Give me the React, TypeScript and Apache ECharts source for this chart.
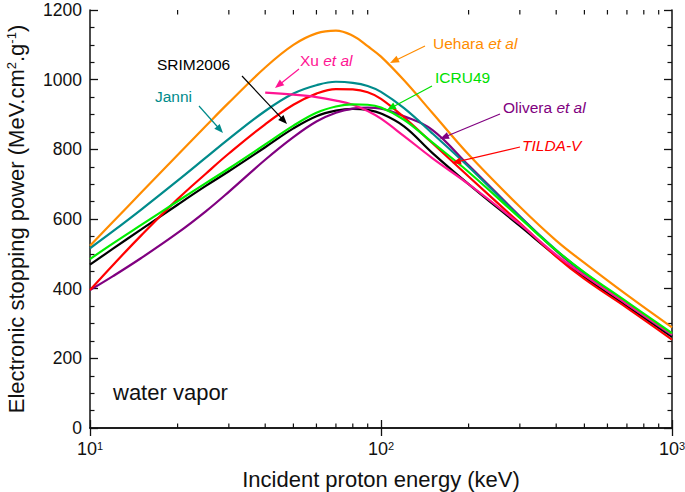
import React, { useEffect, useRef } from "react";
import * as echarts from "echarts";

const FONT = '"Liberation Sans", Arial, Helvetica, sans-serif';

const energies = [10, 12, 15, 20, 25, 30, 40, 50, 60, 70, 80, 90, 100, 120, 150, 200, 300, 400, 500, 700, 1000];
const uehara = [523, 592, 676, 784, 867, 934, 1035, 1100, 1133, 1141, 1126, 1096, 1066, 998, 905, 785, 635, 538, 474, 382, 289];
const janni = [516, 565, 627, 710, 776, 830, 910, 960, 984, 994, 991, 982, 965, 918, 846, 750, 606, 511, 445, 358, 268];
const tilda = [396, 468, 553, 657, 730, 788, 872, 928, 960, 973, 972, 964, 945, 892, 818, 722, 588, 492, 428, 345, 254];
const icru49 = [485, 530, 583, 651, 703, 745, 814, 868, 905, 923, 929, 928, 920, 885, 820, 735, 603, 510, 447, 362, 272];
const srim2006 = [469, 515, 570, 641, 695, 737, 806, 860, 895, 911, 916, 913, 903, 866, 790, 700, 580, 494, 433, 350, 262];
const olivera = [396, 436, 488, 560, 622, 678, 770, 835, 880, 905, 917, 920, 917, 895, 856, 754, 608, 508, 443, 356, 267];
const xu = [null, null, null, null, null, null, 963, 957, 950, 940, 928, 910, 888, 838, 775, 700, 585, 497, 438, 356, 268];

const minorTicksX = [20, 30, 40, 50, 60, 70, 80, 90, 200, 300, 400, 500, 600, 700, 800, 900];

const C = {
  uehara: "#FF8C00",
  janni: "#008B8B",
  tilda: "#FF0000",
  icru: "#00EE00",
  srim: "#000000",
  olivera: "#800080",
  xu: "#FF1493",
};

function pairs(vals: (number | null)[]) {
  const out: [number, number][] = [];
  vals.forEach((v, i) => {
    if (v !== null) out.push([energies[i], v]);
  });
  return out;
}

function lineSeries(name: string, vals: (number | null)[], color: string, z: number) {
  return {
    name,
    type: "line",
    data: pairs(vals),
    showSymbol: false,
    smooth: 0.4,
    z,
    lineStyle: { color, width: 2.2 },
    itemStyle: { color },
    silent: true,
  };
}

function arrow(x1: number, y1: number, x2: number, y2: number, color: string) {
  const dx = x2 - x1;
  const dy = y2 - y1;
  const L = Math.hypot(dx, dy);
  const ux = dx / L;
  const uy = dy / L;
  const hl = 9;
  const hw = 3.6;
  const bx = x2 - ux * hl;
  const by = y2 - uy * hl;
  return [
    { type: "line", z: 100, shape: { x1, y1, x2: bx + ux * 2, y2: by + uy * 2 }, style: { stroke: color, lineWidth: 1.2 } },
    {
      type: "polygon",
      z: 100,
      shape: { points: [[x2, y2], [bx - uy * hw, by + ux * hw], [bx + uy * hw, by - ux * hw]] },
      style: { fill: color },
    },
  ];
}

function label(x: number, y: number, text: string, color: string, italicPart?: string, allItalic?: boolean) {
  const base = { fontSize: 15.5, fontFamily: FONT, fill: color, color };
  const t = italicPart ? `{n|${text}}{i|${italicPart}}` : allItalic ? `{i|${text}}` : `{n|${text}}`;
  return {
    type: "text",
    z: 100,
    x,
    y,
    style: {
      text: t,
      fill: color,
      fontSize: 15.5,
      fontFamily: FONT,
      verticalAlign: "middle",
      textVerticalAlign: "middle",
      rich: {
        n: { ...base },
        i: { ...base, fontStyle: "italic" },
      },
    },
  };
}

export default function App() {
  const ref = useRef<HTMLDivElement>(null);
  useEffect(() => {
    if (!ref.current) return;
    const chart = echarts.init(ref.current, null, { renderer: "svg" });
    const axisCol = "#111";
    const supRich = {
      b: { fontSize: 18, fontFamily: FONT, color: "#111" },
      s: { fontSize: 11, fontFamily: FONT, color: "#111", verticalAlign: "top" },
    };
    const option: any = {
      animation: false,
      backgroundColor: "#fff",
      grid: { left: 90, right: 13, top: 10, bottom: 64, outerBoundsMode: "none", containLabel: false },
      xAxis: [
        {
          type: "log",
          logBase: 10,
          min: 10,
          max: 1000,
          position: "bottom",
          axisLine: { show: true, lineStyle: { color: axisCol, width: 1.5 } },
          axisTick: { show: true, inside: true, length: 8, lineStyle: { color: axisCol, width: 1.3 } },
          minorTick: { show: false },
          splitLine: { show: false },
          axisLabel: {
            margin: 12,
            formatter: (v: number) => `{b|10}{s|${Math.round(Math.log10(v))}}`,
            rich: supRich,
          },
          name: "Incident proton energy (keV)",
          nameLocation: "middle",
          nameGap: 40,
          nameTextStyle: { fontSize: 22, fontFamily: FONT, color: "#111" },
        },
        {
          type: "log",
          logBase: 10,
          min: 10,
          max: 1000,
          position: "top",
          axisLine: { show: true, lineStyle: { color: axisCol, width: 1.5 } },
          axisTick: { show: true, inside: true, length: 8, lineStyle: { color: axisCol, width: 1.3 } },
          axisLabel: { show: false },
          splitLine: { show: false },
        },
      ],
      yAxis: [
        {
          type: "value",
          min: 0,
          max: 1200,
          interval: 200,
          position: "left",
          axisLine: { show: true, lineStyle: { color: axisCol, width: 1.5 } },
          axisTick: { show: true, inside: true, length: 8, lineStyle: { color: axisCol, width: 1.3 } },
          minorTick: { show: true, splitNumber: 4, length: 4.5, lineStyle: { color: axisCol, width: 1.2 } },
          splitLine: { show: false },
          axisLabel: {
            margin: 8,
            fontSize: 17.5,
            lineHeight: 14,
            fontFamily: FONT,
            color: "#111",
            formatter: (v: number) => String(v),
          },
          name: "{a|Electronic stopping power (MeV.cm}{s|2}{a|.g}{s|-1}{a|)}",
          nameLocation: "middle",
          nameGap: 63,
          nameTextStyle: {
            fontSize: 22,
            fontFamily: FONT,
            color: "#111",
            rich: {
              a: { fontSize: 22, fontFamily: FONT, color: "#111" },
              s: { fontSize: 13, fontFamily: FONT, color: "#111", verticalAlign: "top" },
            },
          },
        },
        {
          type: "value",
          min: 0,
          max: 1200,
          interval: 200,
          position: "right",
          axisLine: { show: true, lineStyle: { color: axisCol, width: 1.5 } },
          axisTick: { show: true, inside: true, length: 8, lineStyle: { color: axisCol, width: 1.3 } },
          minorTick: { show: true, splitNumber: 4, length: 4.5, lineStyle: { color: axisCol, width: 1.2 } },
          splitLine: { show: false },
          axisLabel: { show: false },
        },
      ],
      series: [
        lineSeries("SRIM2006", srim2006, C.srim, 2),
        lineSeries("Olivera et al", olivera, C.olivera, 3),
        lineSeries("Janni", janni, C.janni, 4),
        lineSeries("TILDA-V", tilda, C.tilda, 5),
        lineSeries("Xu et al", xu, C.xu, 6),
        lineSeries("ICRU49", icru49, C.icru, 7),
        lineSeries("Uehara et al", uehara, C.uehara, 8),
        {
          type: "custom",
          silent: true,
          clip: false,
          z: 10,
          data: minorTicksX.map((v) => [v, 0]),
          renderItem: (_p: any, api: any) => {
            const x = api.value(0);
            const pb = api.coord([x, 0]);
            const pt = api.coord([x, 1200]);
            const st = { stroke: axisCol, lineWidth: 1.2 };
            return {
              type: "group",
              children: [
                { type: "line", shape: { x1: pb[0], y1: pb[1], x2: pb[0], y2: pb[1] - 4.5 }, style: st },
                { type: "line", shape: { x1: pt[0], y1: pt[1], x2: pt[0], y2: pt[1] + 4.5 }, style: st },
              ],
            };
          },
        },
      ],
      graphic: [
        {
          type: "text",
          x: 113,
          y: 392,
          z: 100,
          style: { text: "water vapor", fontSize: 22, fontFamily: FONT, fill: "#111", verticalAlign: "middle" },
        },
        label(433, 43, "Uehara ", C.uehara, "et al"),
        ...arrow(425, 46, 390, 63, C.uehara),
        label(435, 77, "ICRU49", "#00E000"),
        ...arrow(432, 86, 387, 110, "#00E000"),
        label(503, 107, "Olivera ", C.olivera, "et al"),
        ...arrow(500, 114, 440, 139, C.olivera),
        label(522, 145, "TILDA-V", C.tilda, undefined, true),
        ...arrow(520, 147, 452, 163, C.tilda),
        label(300, 60, "Xu ", C.xu, "et al"),
        ...arrow(299, 69, 275, 88, C.xu),
        label(157, 64, "SRIM2006", "#000"),
        ...arrow(242, 76, 287, 124, "#000"),
        label(155, 96, "Janni", C.janni),
        ...arrow(199, 106, 223, 133, C.janni),
      ],
    };
    chart.setOption(option);
    return () => chart.dispose();
  }, []);
  return (
    <div
      ref={ref}
      style={{ position: "fixed", left: 0, top: 0, width: 685, height: 492, background: "#fff" }}
    />
  );
}
